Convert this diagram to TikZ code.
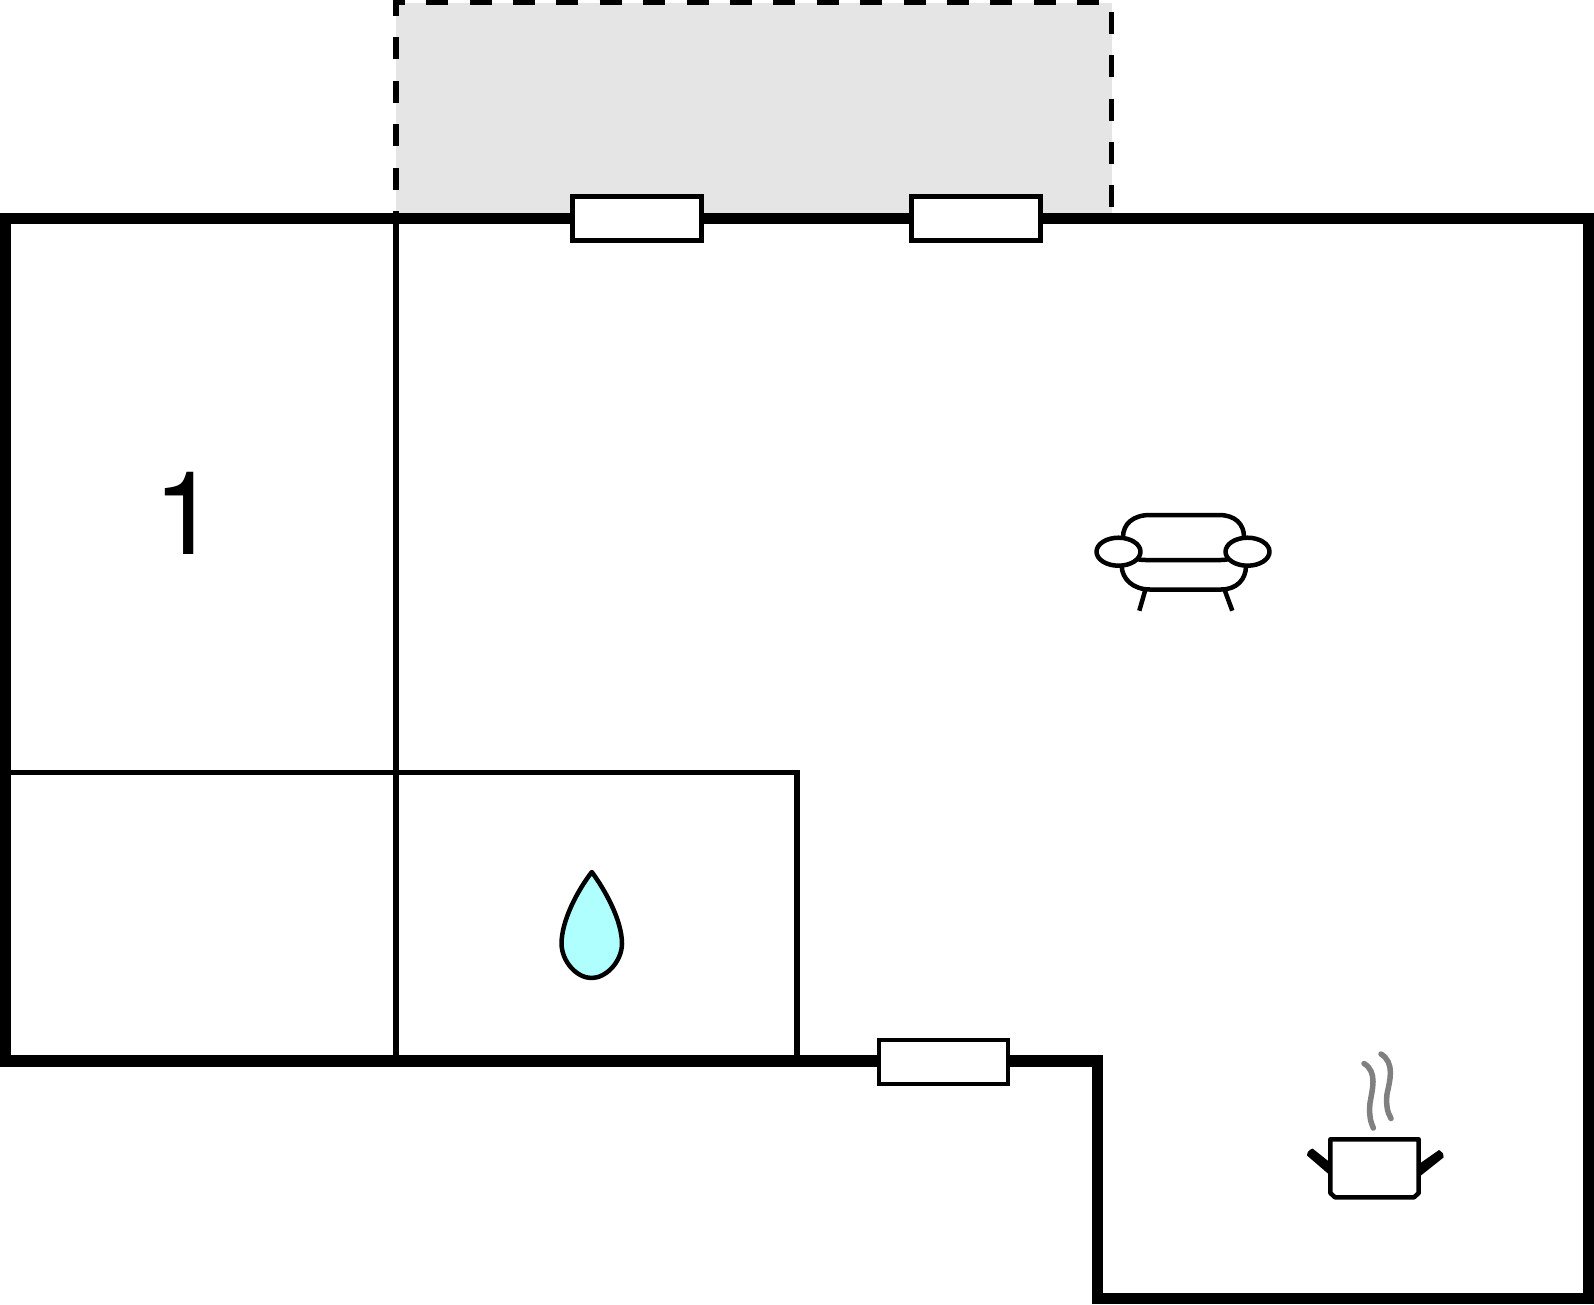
\documentclass[tikz,border=0pt]{standalone}
\usepackage{fontspec}
\setmainfont{TeX Gyre Heros}
\definecolor{terrace}{HTML}{E5E5E5}
\definecolor{water}{HTML}{B0FFFF}
\tikzset{
	wall/.style = {line width = 11.4pt, line join = miter},
	inner wall/.style = {line width = 5.3pt},
	window/.style = {draw, fill = white, line width = 4.4pt, minimum width = 129pt, minimum height = 44pt, inner sep = 0pt},
	icon/.style = {line width = 4.5pt, line join = round},
	steam/.style = {line width = 5.5pt, line cap = round, color = gray}
}
\begin{document}
\begin{tikzpicture}[x = 1pt, y = -1pt]
	\useasboundingbox (0,0) rectangle (1594,1304);
	\path
	(5.7,218.5) coordinate (A)
	(1588.3,218.5) coordinate (B)
	(1588.3,1298.3) coordinate (C)
	(1097.5,1298.3) coordinate (D)
	(1097.5,1061) coordinate (E)
	(5.7,1061) coordinate (F)
	(396,211) coordinate (P)
	(396,1061) coordinate (Q)
	(5.7,772.5) coordinate (R)
	(797,772.5) coordinate (S)
	(797,1061) coordinate (T)
	(396,2.7) coordinate (U)
	(1111.5,2.7) coordinate (V)
	(1111.5,213) coordinate (W)
	;
	\fill[terrace] (396,3) rectangle (W);
	\draw[line width = 5.5pt, dash pattern = on 22pt off 21.4pt, dash phase = 22pt]
	(P)--(U)--(V)--(W)
	;
	\draw[inner wall]
	(P)--(Q)
	(R)--(S)--(T)
	;
	\draw[wall]
	(A)--(B)--(C)--(D)--(E)--(F)--cycle
	;
	\foreach \n/\x/\y in {wina/637/218.5,winb/976/218.5,winc/943.5/1062}
	\node[window] (\n) at (\x,\y) {};
	\node (room) at (185.3,513.5) {\fontsize{116}{116}\selectfont 1};
	% drop
	\draw[icon, fill = water]
	(591.8,872) .. controls (578,890) and (561.5,920) .. (561.5,944)
	.. controls (562,962) and (577,978) .. (591.5,978)
	.. controls (606,978) and (621.5,962) .. (622,944)
	.. controls (622,920) and (605,890) .. (591.8,872) -- cycle
	;
	% sofa
	\draw[icon]
	(1123,537) .. controls (1123,524) and (1133,515) .. (1150,515)
	-- (1219,515) .. controls (1235,515) and (1244,524) .. (1244,537)
	(1138,559.3) .. controls (1142,560) and (1144,560) .. (1148,560)
	-- (1218,560) .. controls (1222,560) and (1225,560) .. (1228,559.3)
	(1121.7,566) .. controls (1122,579) and (1133,589.5) .. (1150,589.5)
	-- (1221,589.5) .. controls (1237,589.5) and (1246,579) .. (1246,566)
	(1145,591) -- (1139.3,610.7)
	(1225,591) -- (1232.3,610.7)
	;
	\foreach \x in {1118.5,1247.5}
	\draw[icon, fill = white] (\x,551.7) ellipse (22pt and 14pt);
	% pot
	\fill
	(1332,1164) -- (1312.5,1148.5) .. controls (1309,1150) and (1307,1152) .. (1307,1155.5) -- (1332,1177) -- cycle
	(1419,1164) -- (1439,1150) .. controls (1442,1151) and (1444,1154) .. (1443.5,1157.5) -- (1419,1177) -- cycle
	;
	\draw[icon, fill = white]
	(1330.3,1139.3) -- (1418.7,1139.3) -- (1418.7,1193) -- (1414,1197.3) -- (1335,1197.3) -- (1330.3,1193) -- cycle
	;
	\draw[steam]
	(1364,1063.5) .. controls (1378,1072) and (1372,1090) .. (1370,1103) .. controls (1369,1113) and (1370,1121) .. (1373.3,1128)
	(1381,1054) .. controls (1395,1063) and (1390,1080) .. (1387,1094) .. controls (1386,1104) and (1387,1112) .. (1391,1118.5)
	;
\end{tikzpicture}
\end{document}
